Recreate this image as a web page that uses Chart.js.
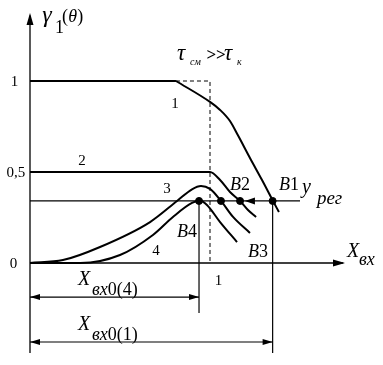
<!DOCTYPE html>
<html><head><meta charset="utf-8">
<script src="https://cdn.jsdelivr.net/npm/chart.js@4.4.1/dist/chart.umd.min.js"></script>
<style>html,body{margin:0;padding:0;background:#fff}#wrap{width:383px;height:365px}</style>
</head><body><div id="wrap"><canvas id="c" width="383" height="365"></canvas></div>
<script>
// ---- data ----
const curve1Flat = [[0,1],[0.811,1]];
const curve1 = [[0.811,1],[1.0,0.885],[1.056,0.841],[1.111,0.78],[1.156,0.70],[1.222,0.577],[1.289,0.456],[1.35,0.341],[1.383,0.28]];
const curve2 = [[0,0.5],[1.0,0.5],[1.056,0.456],[1.111,0.39],[1.167,0.341],[1.211,0.291],[1.256,0.253]];
const curve3 = [[0,0],[0.183,0.016],[0.389,0.088],[0.667,0.225],[0.817,0.341],[0.9,0.405],[0.95,0.423],[1.0,0.407],[1.061,0.341],[1.128,0.253],[1.222,0.165]];
const curve4 = [[0,0],[0.28,0],[0.5,0.044],[0.683,0.154],[0.794,0.253],[0.9,0.33],[0.945,0.342],[0.983,0.319],[1.056,0.225],[1.15,0.115]];
const yReg = 0.341;
const bNames = ['B4','B3','B2','B1'];
const bX = [0.939,1.061,1.167,1.348];
const yTickValues = [1,0.5,0];
const yTickLabels = ['1','0,5','0'];
const xTickValues = [1];
const xTickLabels = ['1'];
const tauX = 1.0; // dashed boundary x
const dimLabels = ['(4)','(1)'];

const toPts = a => a.map(p => ({x:p[0], y:p[1]}));
const lineDs = (d, w) => ({data: toPts(d), borderColor:'#000', borderWidth: w, pointRadius:0, fill:false, cubicInterpolationMode:'monotone', tension:0.4});

const SERIF = '"Liberation Serif", "Times New Roman", serif';

function arrowHead(ctx, x, y, ang, L, W){
  ctx.save(); ctx.translate(x,y); ctx.rotate(ang);
  ctx.beginPath(); ctx.moveTo(0,0); ctx.lineTo(-L,-W); ctx.lineTo(-L,W); ctx.closePath(); ctx.fill(); ctx.restore();
}

const drawPlugin = {
  id:'schema',
  beforeDatasetsDraw(chart){
    const ctx = chart.ctx, xs = chart.scales.x, ys = chart.scales.y;
    const X = v => xs.getPixelForValue(v), Y = v => ys.getPixelForValue(v);
    ctx.save();
    ctx.strokeStyle = '#000'; ctx.fillStyle = '#000'; ctx.lineWidth = 1.3;
    // y axis
    ctx.beginPath(); ctx.moveTo(X(0), Y(-0.495)); ctx.lineTo(X(0), Y(1.36)); ctx.stroke();
    arrowHead(ctx, X(0), Y(1.374), -Math.PI/2, 12, 3.5);
    // x axis
    ctx.beginPath(); ctx.moveTo(X(0), Y(0)); ctx.lineTo(X(1.74), Y(0)); ctx.stroke();
    arrowHead(ctx, X(1.75), Y(0), 0, 12, 3.5);
    // y_reg line
    ctx.lineWidth = 1.2;
    ctx.beginPath(); ctx.moveTo(X(0), Y(yReg)); ctx.lineTo(X(1.5), Y(yReg)); ctx.stroke();
    arrowHead(ctx, X(1.194), Y(yReg), Math.PI, 10, 3.5);
    // vertical drop lines
    ctx.beginPath(); ctx.moveTo(X(bX[0]), Y(yReg)); ctx.lineTo(X(bX[0]), Y(-0.275)); ctx.stroke();
    ctx.beginPath(); ctx.moveTo(X(bX[3]), Y(yReg)); ctx.lineTo(X(bX[3]), Y(-0.495)); ctx.stroke();
    // dimension arrows
    const dims = [[-0.187, bX[0]], [-0.434, bX[3]]];
    dims.forEach(d => {
      ctx.beginPath(); ctx.moveTo(X(0), Y(d[0])); ctx.lineTo(X(d[1]), Y(d[0])); ctx.stroke();
      arrowHead(ctx, X(0), Y(d[0]), Math.PI, 10, 3);
      arrowHead(ctx, X(d[1]), Y(d[0]), 0, 10, 3);
    });
    // dashed box
    ctx.setLineDash([4,3]); ctx.lineWidth = 1;
    ctx.beginPath(); ctx.moveTo(X(0.811), Y(1)); ctx.lineTo(X(tauX), Y(1)); ctx.lineTo(X(tauX), Y(0)); ctx.stroke();
    ctx.setLineDash([]);
    ctx.restore();
  },
  afterDatasetsDraw(chart){
    const ctx = chart.ctx, xs = chart.scales.x, ys = chart.scales.y;
    const X = v => xs.getPixelForValue(v), Y = v => ys.getPixelForValue(v);
    ctx.save(); ctx.fillStyle = '#000'; ctx.textBaseline = 'alphabetic';
    const T = (s, x, y, font, align) => { ctx.font = font; ctx.textAlign = align || 'left'; ctx.fillText(s, X(x), Y(y)); return ctx.measureText(s).width; };
    // tick labels
    const tickX = [-0.086,-0.078,-0.092], tickY = [0.973,0.473,-0.027];
    yTickLabels.forEach((s,i) => T(s, tickX[i], tickY[i], '15px '+SERIF, 'center'));
    xTickLabels.forEach((s,i) => T(s, xTickValues[i]+0.047, -0.121, '15px '+SERIF, 'center'));
    // curve numbers
    T('1', 0.806, 0.852, '15px '+SERIF, 'center');
    T('2', 0.289, 0.538, '15px '+SERIF, 'center');
    T('3', 0.761, 0.385, '15px '+SERIF, 'center');
    T('4', 0.700, 0.044, '15px '+SERIF, 'center');
    // B labels
    const bLX = [0.817,1.211,1.111,1.383], bLY = [0.143,0.033,0.401,0.401];
    bNames.forEach((s,i) => { const w = T(s[0], bLX[i], bLY[i], 'italic 18px '+SERIF); ctx.font='18px '+SERIF; ctx.fillText(s[1], X(bLX[i])+w, Y(bLY[i])); });
    // y axis title
    T('γ', 0.068, 1.324, 'italic 24px '+SERIF);
    T('1', 0.139, 1.264, '18px '+SERIF);
    T('(', 0.178, 1.324, '18px '+SERIF);
    T('θ', 0.213, 1.324, 'italic 18px '+SERIF);
    T(')', 0.262, 1.324, '18px '+SERIF);
    // tau label
    T('τ', 0.817, 1.115, 'italic 23px '+SERIF);
    T('см', 0.889, 1.088, 'italic 10px '+SERIF);
    T('>>', 0.980, 1.115, 'bold 17px '+SERIF);
    T('τ', 1.078, 1.115, 'italic 23px '+SERIF);
    T('к', 1.150, 1.088, 'italic 10px '+SERIF);
    // y_reg
    T('y', 1.511, 0.385, 'italic 20px '+SERIF);
    T('рег', 1.594, 0.324, 'italic 19px '+SERIF);
    // X_vx axis label
    T('X', 1.761, 0.033, 'italic 20px '+SERIF);
    T('вх', 1.828, -0.011, 'italic 18px '+SERIF);
    // dimension labels
    const dimY = [[-0.121,-0.175],[-0.368,-0.422]];
    dimLabels.forEach((s,i) => {
      T('X', 0.267, dimY[i][0], 'italic 20px '+SERIF);
      const w = T('вх', 0.344, dimY[i][1], 'italic 18px '+SERIF);
      ctx.font = '18px '+SERIF; ctx.fillText('0'+s, X(0.344)+w, Y(dimY[i][1]));
    });
    ctx.restore();
  }
};

new Chart(document.getElementById('c'), {
  type:'line',
  data:{ datasets:[
    Object.assign(lineDs(curve1Flat, 2.2), {cubicInterpolationMode:'default', tension:0}),
    lineDs(curve1, 2),
    lineDs(curve2, 2),
    lineDs(curve3, 2),
    lineDs(curve4, 2),
    {type:'scatter', data: bX.map(x => ({x:x, y:yReg})), pointRadius:3.5, pointBackgroundColor:'#000', pointBorderColor:'#000', showLine:false}
  ]},
  options:{
    responsive:false, animation:false, events:[],
    layout:{padding:0, autoPadding:false},
    plugins:{legend:{display:false}, tooltip:{enabled:false}},
    scales:{
      x:{type:'linear', display:false, min:-30/180, max:353/180},
      y:{type:'linear', display:false, min:-102/182, max:263/182}
    }
  },
  plugins:[drawPlugin]
});
</script></body></html>
